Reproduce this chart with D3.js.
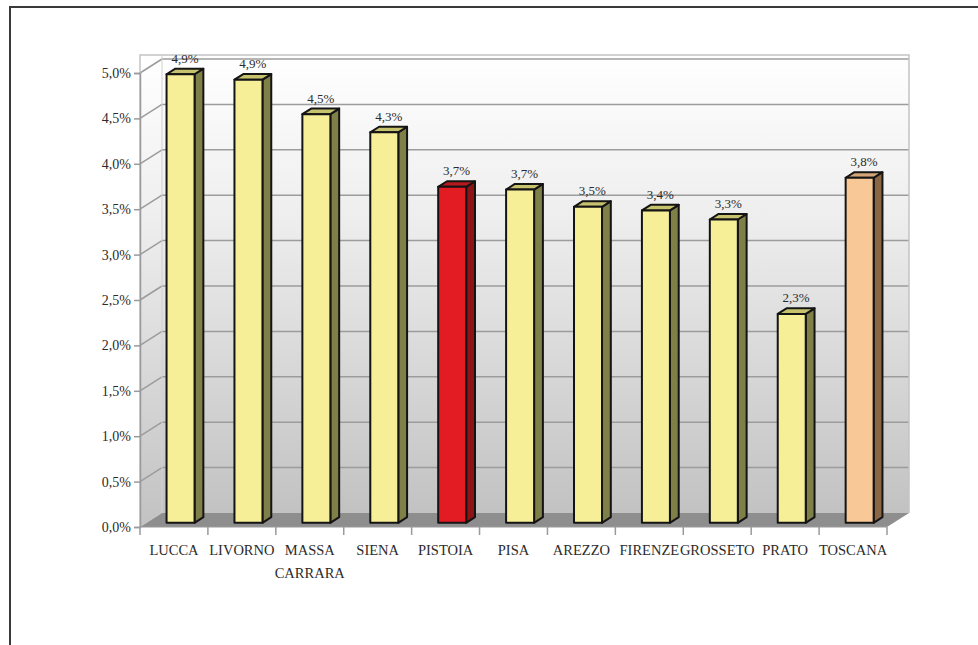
<!DOCTYPE html>
<html>
<head>
<meta charset="utf-8">
<script src="https://cdn.jsdelivr.net/npm/d3@7"></script>
<style>
  html, body { margin: 0; padding: 0; background: #ffffff; }
  svg { display: block; }
  text { font-family: "Liberation Serif", "DejaVu Serif", serif; fill: #2b2b2b; }
</style>
</head>
<body>
<svg id="chart" width="978" height="645"></svg>
<script>
// Province names (line breaks mark wrapped labels)
const categories = ["LUCCA", "LIVORNO", "MASSA\nCARRARA", "SIENA", "PISTOIA", "PISA",
                    "AREZZO", "FIRENZE", "GROSSETO", "PRATO", "TOSCANA"];
// Share per province, in percent
const values = [4.94, 4.88, 4.5, 4.3, 3.7, 3.67, 3.48, 3.44, 3.34, 2.3, 3.8];
// Value axis ticks
const yTicks = [0, 0.5, 1, 1.5, 2, 2.5, 3, 3.5, 4, 4.5, 5];

const focusCategory = "PISTOIA";
const totalCategory = "TOSCANA";

const svg = d3.select("#chart");

// Outer frame
svg.append("path")
  .attr("d", "M10,650 L10,7 L985,7")
  .attr("fill", "none").attr("stroke", "#3a3a3a").attr("stroke-width", 2);

// Scales: front plane of the 3D box
const x = d3.scaleBand().domain(categories).range([140, 887]).paddingInner(0).paddingOuter(0);
const y = d3.scaleLinear().domain([0, 5]).range([527, 73]);

// Depth projection of the box
const DX = 22, DY = 14;
const px = (xv, d) => xv + d * DX;
const py = (v, d) => y(v) - d * DY;

const fmt = v => d3.format(".1f")(v).replace(".", ",") + "%";

// Wall gradient
const defs = svg.append("defs");
const grad = defs.append("linearGradient").attr("id", "wallGrad")
  .attr("x1", 0).attr("y1", 0).attr("x2", 0).attr("y2", 1);
grad.append("stop").attr("offset", "0%").attr("stop-color", "#ffffff");
grad.append("stop").attr("offset", "35%").attr("stop-color", "#eeeeee");
grad.append("stop").attr("offset", "100%").attr("stop-color", "#c2c2c2");

const wallTop = 55;
const backLeft = px(x.range()[0], 1), backRight = px(x.range()[1], 1);
const yBack0 = py(0, 1);

// Back wall
svg.append("rect")
  .attr("x", backLeft).attr("y", wallTop)
  .attr("width", backRight - backLeft).attr("height", yBack0 - wallTop)
  .attr("fill", "url(#wallGrad)");

// Side wall
svg.append("polygon")
  .attr("points", [[140, wallTop], [backLeft, wallTop], [backLeft, yBack0], [140, y(0)]].join(" "))
  .attr("fill", "url(#wallGrad)");

// Gridlines on back and side walls
const grid = svg.append("g");
yTicks.filter(t => t > 0).forEach(t => {
  grid.append("line")
    .attr("x1", backLeft).attr("x2", backRight)
    .attr("y1", py(t, 1)).attr("y2", py(t, 1))
    .attr("stroke", "#9c9c9c").attr("stroke-width", 1.5);
  grid.append("line")
    .attr("x1", 140).attr("x2", backLeft)
    .attr("y1", y(t)).attr("y2", py(t, 1))
    .attr("stroke", "#9c9c9c").attr("stroke-width", 1.5);
});

// Floor
svg.append("polygon")
  .attr("points", [[140, y(0)], [backLeft, yBack0], [backRight, yBack0], [x.range()[1], y(0)]].join(" "))
  .attr("fill", "#8e8e8e");

// Box outline
svg.append("path")
  .attr("d", `M140,${y(0)} L140,${wallTop} L${backRight},${wallTop} L${backRight},${yBack0}`)
  .attr("fill", "none").attr("stroke", "#c4c4c4").attr("stroke-width", 1.5);
svg.append("line")
  .attr("x1", backLeft).attr("x2", backLeft).attr("y1", wallTop).attr("y2", yBack0)
  .attr("stroke", "#d0d0d0").attr("stroke-width", 1);

// Y axis
const yAxis = svg.append("g")
  .attr("transform", "translate(140,0)")
  .call(d3.axisLeft(y).tickValues(yTicks).tickFormat(fmt).tickSize(6).tickPadding(3));
yAxis.select(".domain").attr("stroke", "#9a9a9a").attr("stroke-width", 1.5);
yAxis.selectAll(".tick line").attr("stroke", "#9a9a9a").attr("stroke-width", 1.5);
yAxis.selectAll(".tick text")
  .style("font-family", "'Liberation Serif', serif").attr("font-size", 14)
  .attr("fill", "#2b2b2b");

// X axis: ticks on band boundaries, labels under band centres
const xAxis = svg.append("g");
xAxis.append("line")
  .attr("x1", 140).attr("x2", x.range()[1]).attr("y1", y(0)).attr("y2", y(0))
  .attr("stroke", "#9a9a9a").attr("stroke-width", 1);
const bounds = categories.map(c => x(c)).concat([x.range()[1]]);
xAxis.selectAll("line.tk").data(bounds).join("line").attr("class", "tk")
  .attr("x1", d => d).attr("x2", d => d)
  .attr("y1", y(0)).attr("y2", y(0) + 8)
  .attr("stroke", "#9a9a9a").attr("stroke-width", 1.5);
const xl = xAxis.selectAll("text").data(categories).join("text")
  .attr("x", d => x(d) + x.bandwidth() / 2)
  .attr("y", 555)
  .attr("text-anchor", "middle")
  .attr("font-size", 14.5);
xl.each(function(d) {
  const t = d3.select(this);
  d.split("\n").forEach((line, i) => {
    t.append("tspan").attr("x", x(d) + x.bandwidth() / 2).attr("dy", i === 0 ? 0 : 23).text(line);
  });
});

// 3D columns
const faceW = 28;
const dFront = 0.3, dBack = 0.7;
const palette = c => {
  if (c === focusCategory) return { front: "#e31b23", side: "#8c1416", top: "#b3191d" };
  if (c === totalCategory) return { front: "#f9c897", side: "#8b6644", top: "#d2a677" };
  return { front: "#f6ef98", side: "#7f7f48", top: "#c6c26d" };
};

const bars = svg.append("g").selectAll("g").data(categories).join("g");
bars.each(function(c, i) {
  const g = d3.select(this);
  const v = values[i];
  const col = palette(c);
  const cx = x(c) + x.bandwidth() / 2;
  const l = cx - faceW / 2, r = cx + faceW / 2;
  const f = (xv, vv, d) => [px(xv, d), py(vv, d)];
  // side face
  g.append("polygon")
    .attr("points", [f(r, 0, dFront), f(r, 0, dBack), f(r, v, dBack), f(r, v, dFront)].join(" "))
    .attr("fill", col.side).attr("stroke", "#141414").attr("stroke-width", 2).attr("stroke-linejoin", "round");
  // top face
  g.append("polygon")
    .attr("points", [f(l, v, dFront), f(l, v, dBack), f(r, v, dBack), f(r, v, dFront)].join(" "))
    .attr("fill", col.top).attr("stroke", "#141414").attr("stroke-width", 2).attr("stroke-linejoin", "round");
  // front face
  g.append("polygon")
    .attr("points", [f(l, 0, dFront), f(r, 0, dFront), f(r, v, dFront), f(l, v, dFront)].join(" "))
    .attr("fill", col.front).attr("stroke", "#141414").attr("stroke-width", 2).attr("stroke-linejoin", "round");
  // value label
  g.append("text")
    .attr("x", px(cx, (dFront + dBack) / 2))
    .attr("y", py(v, dBack) - 6)
    .attr("text-anchor", "middle")
    .attr("font-size", 13)
    .text(fmt(v));
});
</script>
</body>
</html>
